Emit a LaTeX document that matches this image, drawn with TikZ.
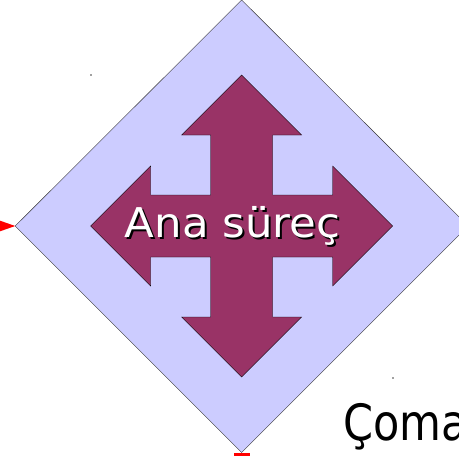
\documentclass[tikz,border=0pt]{standalone}
\usepackage{fontspec}
\setmainfont{DejaVu Sans}
\usepackage{tikz}

\definecolor{lavender}{RGB}{204,204,255}
\definecolor{plum}{RGB}{153,51,102}

\begin{document}
\begin{tikzpicture}[x=1pt,y=-1pt]
\useasboundingbox (0,0) rectangle (459,456);
\begin{scope}[shift={(241.7,226)}]

% diamond
\filldraw[fill=lavender, draw=black!80, thin] (0,-226) -- (226.5,0) -- (0,226.5) -- (-226.5,0) -- cycle;
\coordinate (west) at (-226.5,0);
\coordinate (south) at (0,226.5);

% cross arrow
\filldraw[fill=plum, draw=black, thin]
  (0,-151) -- (60,-91) -- (31,-91) -- (31,-31) -- (91,-31) -- (91,-60) -- (151,0)
  -- (91,60) -- (91,31) -- (31,31) -- (31,91) -- (60,91) -- (0,151)
  -- (-60,91) -- (-31,91) -- (-31,31) -- (-91,31) -- (-91,60) -- (-151,0)
  -- (-91,-60) -- (-91,-31) -- (-31,-31) -- (-31,-91) -- (-60,-91) -- cycle;

\node[black, font=\fontsize{41}{44}\selectfont, xscale=1.06] at (-7.2,2.2) {Ana süreç};
\node[white, font=\fontsize{41}{44}\selectfont, xscale=1.06] (label) at (-9.2,0) {Ana süreç};

% red arrow tips
\fill[red] ([xshift=-20]west) -- ++(0,-7) -- (west) -- ++(-20,7) -- cycle;
\fill[red] ([xshift=-8]south) rectangle ([xshift=8,yshift=-10]south);

%\filldraw (-150.7,-151) circle (0.6pt);
\filldraw[black!60] (-150.7,-151) circle (0.7);
\filldraw[black!60] (151.3,152) circle (0.7);

\end{scope};

\node[anchor=base west, inner sep=0pt, font=\fontsize{50}{54}\selectfont, xscale=0.86] (coma) at (343,440) {Çoma};
\end{tikzpicture}
\end{document}
